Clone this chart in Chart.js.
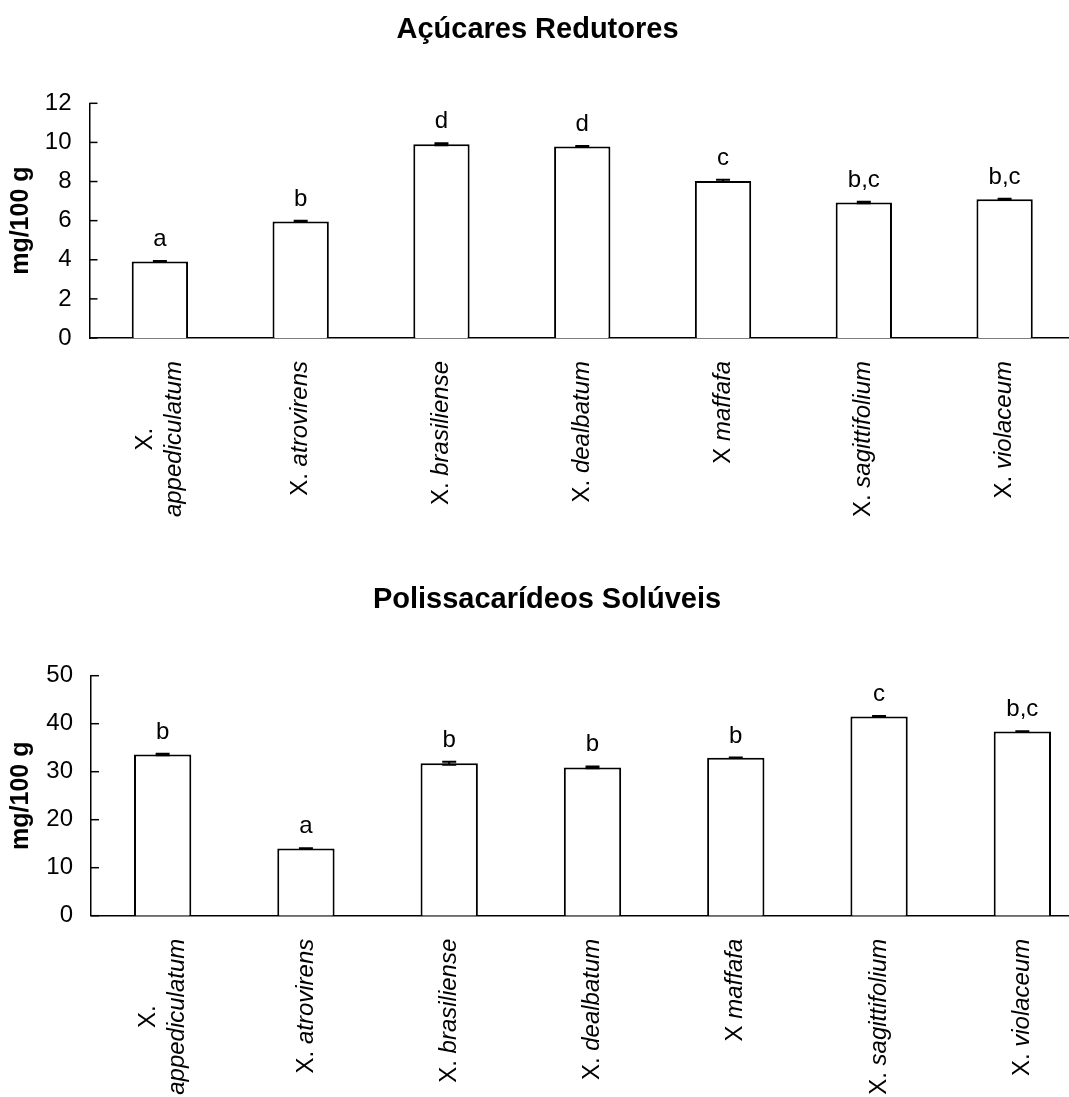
<!doctype html>
<html lang="pt">
<head>
<meta charset="utf-8">
<title>Açúcares Redutores / Polissacarídeos Solúveis</title>
<script src="https://cdn.jsdelivr.net/npm/chart.js"></script>
<style>
  html, body { margin: 0; padding: 0; background: #fff; overflow: hidden; }
  .wrap { position: absolute; left: 0; }
  #top-wrap { top: 0; width: 1075px; height: 560px; }
  #bottom-wrap { top: 560px; width: 1094px; height: 600px; }
</style>
</head>
<body>
<div class="wrap" id="top-wrap"><canvas id="sugarChart"></canvas></div>
<div class="wrap" id="bottom-wrap"><canvas id="polyChart"></canvas></div>
<script>
  // categories (first line / word upright, species name italic)
  const species = [['X.', 'appediculatum'], 'X. atrovirens', 'X. brasiliense', 'X. dealbatum', 'X maffafa', 'X. sagittifolium', 'X. violaceum'];

  // Açúcares Redutores (mg/100 g)
  const sugarValues = [3.91, 5.96, 9.91, 9.79, 8.03, 6.93, 7.10];
  const sugarErrors = [0.03, 0.03, 0.05, 0.03, 0.06, 0.04, 0.02];
  const sugarLetters = ['a', 'b', 'd', 'd', 'c', 'b,c', 'b,c'];
  const sugarTicks = [0, 2, 4, 6, 8, 10, 12];

  // Polissacarídeos Solúveis (mg/100 g)
  const polyValues = [33.6, 14.0, 31.75, 30.9, 32.9, 41.5, 38.4];
  const polyErrors = [0.15, 0.05, 0.3, 0.2, 0.05, 0.1, 0.05];
  const polyLetters = ['b', 'a', 'b', 'b', 'b', 'c', 'b,c'];
  const polyTicks = [0, 10, 20, 30, 40, 50];

  const FAMILY = '"Liberation Sans", Arial, Helvetica, sans-serif';
  const TXT = 24;
  Chart.defaults.font.family = FAMILY;
  Chart.defaults.color = '#000';

  const font = (size, style, weight) => `${style || 'normal'} ${weight || 'normal'} ${size}px ${FAMILY}`;

  // error bars, letters, inward y ticks and the mixed upright/italic x labels
  const extrasPlugin = {
    id: 'extras',
    afterDraw(chart, args, opts) {
      const ctx = chart.ctx;
      const x = chart.scales.x, y = chart.scales.y;
      const area = chart.chartArea;
      const meta = chart.getDatasetMeta(0);
      const vals = chart.data.datasets[0].data;
      ctx.save();
      ctx.strokeStyle = '#000';
      ctx.fillStyle = '#000';

      // inward tick marks
      ctx.lineWidth = 1.5;
      y.ticks.forEach(t => {
        const py = y.getPixelForValue(t.value);
        ctx.beginPath();
        ctx.moveTo(area.left, py);
        ctx.lineTo(area.left + 8, py);
        ctx.stroke();
      });

      // error bars + letters
      meta.data.forEach((bar, i) => {
        const v = vals[i], e = opts.errors[i];
        const yHi = y.getPixelForValue(v + e), yLo = y.getPixelForValue(v - e);
        ctx.lineWidth = 2;
        ctx.beginPath();
        ctx.moveTo(bar.x, yLo); ctx.lineTo(bar.x, yHi);
        ctx.moveTo(bar.x - 7, yHi); ctx.lineTo(bar.x + 7, yHi);
        ctx.moveTo(bar.x - 7, yLo); ctx.lineTo(bar.x + 7, yLo);
        ctx.stroke();
        ctx.font = font(TXT);
        ctx.textAlign = 'center';
        ctx.textBaseline = 'alphabetic';
        ctx.fillText(opts.letters[i], bar.x, yHi - 15);
      });

      // x labels, rotated, end of text near the axis
      const lh = 29;
      chart.data.labels.forEach((lab, i) => {
        const lines = Array.isArray(lab) ? lab : [lab];
        const parts = lines.map(line => {
          const sp = line.indexOf(' ');
          if (sp < 0) return [[line, lines.length > 1 && line.startsWith('X') ? 'normal' : 'italic']];
          return [[line.slice(0, sp + 1), 'normal'], [line.slice(sp + 1), 'italic']];
        });
        const widths = parts.map(p => p.reduce((w, [t, s]) => { ctx.font = font(TXT, s); return w + ctx.measureText(t).width; }, 0));
        const blockW = Math.max(...widths);
        ctx.save();
        ctx.translate(x.getPixelForValue(i), area.bottom + opts.labelGap);
        ctx.rotate(-Math.PI / 2);
        ctx.textAlign = 'left';
        ctx.textBaseline = 'middle';
        parts.forEach((p, li) => {
          let cx = -blockW / 2 - widths[li] / 2;
          const ly = (li - (parts.length - 1) / 2) * lh;
          p.forEach(([t, s]) => {
            ctx.font = font(TXT, s);
            ctx.fillText(t, cx, ly);
            cx += ctx.measureText(t).width;
          });
        });
        ctx.restore();
      });
      ctx.restore();
    }
  };

  function makeChart(id, o) {
    return new Chart(document.getElementById(id), {
      type: 'bar',
      data: {
        labels: species,
        datasets: [{
          data: o.values,
          backgroundColor: '#fff',
          borderColor: '#000',
          borderWidth: 2,
          barPercentage: 0.4,
          categoryPercentage: 1
        }]
      },
      options: {
        responsive: true,
        maintainAspectRatio: false,
        animation: false,
        layout: { padding: 0 },
        plugins: {
          legend: { display: false },
          tooltip: { enabled: false },
          title: {
            display: true,
            text: o.title,
            font: { size: 29, weight: 'bold' },
            color: '#000',
            padding: { top: o.titleTop, bottom: o.titleBottom }
          },
          extras: { errors: o.errors, letters: o.letters, labelGap: 23 }
        },
        scales: {
          x: {
            offset: true,
            z: 1,
            grid: { display: false, drawTicks: false },
            border: { display: true, color: '#000', width: 1.5 },
            ticks: { display: false },
            afterFit: s => { s.height = o.xHeight; }
          },
          y: {
            min: o.ticks[0],
            max: o.ticks[o.ticks.length - 1],
            afterBuildTicks: s => { s.ticks = o.ticks.map(v => ({ value: v })); },
            grid: { display: false, drawTicks: false },
            border: { display: true, color: '#000', width: 1.5 },
            ticks: { font: { size: TXT }, color: '#000', padding: 18 },
            title: {
              display: true,
              text: 'mg/100 g',
              font: { size: 25, weight: 'bold' },
              color: '#000',
              padding: { top: 6, bottom: 0 }
            },
            afterFit: s => { s.width = o.yWidth; }
          }
        }
      },
      plugins: [extrasPlugin]
    });
  }

  makeChart('sugarChart', {
    title: 'Açúcares Redutores',
    values: sugarValues, errors: sugarErrors, letters: sugarLetters, ticks: sugarTicks,
    titleTop: 13, titleBottom: 55.5, xHeight: 222, yWidth: 89.5
  });

  makeChart('polyChart', {
    title: 'Polissacarídeos Solúveis',
    values: polyValues, errors: polyErrors, letters: polyLetters, ticks: polyTicks,
    titleTop: 22.6, titleBottom: 58.3, xHeight: 244.3, yWidth: 91
  });
</script>
</body>
</html>
